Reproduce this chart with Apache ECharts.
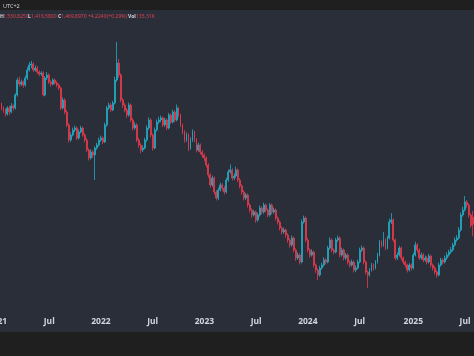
<!DOCTYPE html>
<html><head><meta charset="utf-8">
<script src="https://cdn.jsdelivr.net/npm/echarts@6/dist/echarts.min.js"></script>
<style>html,body{margin:0;padding:0;background:#1f1f1f}#c{width:474px;height:356px}</style>
</head><body><div id="c"></div>
<script>
// Weekly candles, first week starting Monday 2021-01-04
const startWeek = '2021-01-04';
const opens = [1998,2003,2012,1994,1985,1967,1994,1976,2003,1994,2052.5,2120,2102,2111,2097.5,2129,2165,2187.5,2192,2165,2174,2156,2147,2151.5,2052.5,2129,2142.5,2111,2102,2120,2106.5,2097.5,2084,1994,2030,1976,1917.5,1850,1872.5,1895,1904,1859,1886,1904,1872.5,1850,1805,1769,1796,1782.5,1814,1827.5,1850,1859,1841,1917.5,1994,2007.5,1985,2016.5,2120,2196.5,2142.5,2030,2007.5,1985,1962.5,2007.5,1940,1904,1917.5,1850,1827.5,1805,1814,1850,1904,1940,1872.5,1814,1895,1931,1940,1949,1917.5,1940,1904,1962.5,1931,1976,1940,1994,1962.5,1917.5,1886,1850,1872.5,1814,1850,1886,1850,1805,1827.5,1796,1782.5,1769,1737.5,1692.5,1647.5,1679,1616,1589,1625,1647.5,1634,1616,1670,1706,1715,1679,1688,1715,1670,1643,1616,1589,1602.5,1557.5,1535,1512.5,1526,1490,1512.5,1544,1526,1557.5,1535,1512.5,1557.5,1526,1535,1499,1481,1454,1436,1445,1422.5,1400,1377.5,1409,1355,1319,1332.5,1301,1481,1499,1400,1355,1332.5,1346,1287.5,1265,1242.5,1274,1287.5,1310,1301,1364,1400,1355,1346,1400,1409,1332.5,1355,1319,1332.5,1301,1287.5,1301,1265,1274,1301,1355,1364,1301,1256,1242.5,1265,1287.5,1274,1301,1332.5,1391,1377.5,1400,1364,1409,1481,1490,1400,1319,1332.5,1364,1319,1301,1287.5,1265,1287.5,1274,1332.5,1377.5,1355,1319,1332.5,1310,1319,1301,1328,1287.5,1274,1256,1242.5,1287.5,1310,1301,1319,1332.5,1346,1355,1377.5,1400,1409,1445,1512.5,1535,1571,1557.5,1512.5,1502];
const closes = [2003,2012,1994,1985,1967,1994,1976,2003,1994,2052.5,2120,2102,2111,2097.5,2129,2165,2187.5,2192,2165,2174,2156,2147,2151.5,2052.5,2129,2142.5,2111,2102,2120,2106.5,2097.5,2084,1994,2030,1976,1917.5,1850,1872.5,1895,1904,1859,1886,1904,1872.5,1850,1805,1769,1796,1782.5,1814,1827.5,1850,1859,1841,1917.5,1994,2007.5,1985,2016.5,2120,2196.5,2142.5,2030,2007.5,1985,1962.5,2007.5,1940,1904,1917.5,1850,1827.5,1805,1814,1850,1904,1940,1872.5,1814,1895,1931,1940,1949,1917.5,1940,1904,1962.5,1931,1976,1940,1994,1962.5,1917.5,1886,1850,1872.5,1814,1850,1886,1850,1805,1827.5,1796,1782.5,1769,1737.5,1692.5,1647.5,1679,1616,1589,1625,1647.5,1634,1616,1670,1706,1715,1679,1688,1715,1670,1643,1616,1589,1602.5,1557.5,1535,1512.5,1526,1490,1512.5,1544,1526,1557.5,1535,1512.5,1557.5,1526,1535,1499,1481,1454,1436,1445,1422.5,1400,1377.5,1409,1355,1319,1332.5,1301,1481,1499,1400,1355,1332.5,1346,1287.5,1265,1242.5,1274,1287.5,1310,1301,1364,1400,1355,1346,1400,1409,1332.5,1355,1319,1332.5,1301,1287.5,1301,1265,1274,1301,1355,1364,1301,1256,1242.5,1265,1287.5,1274,1301,1332.5,1391,1377.5,1400,1364,1409,1481,1490,1400,1319,1332.5,1364,1319,1301,1287.5,1265,1287.5,1274,1332.5,1377.5,1355,1319,1332.5,1310,1319,1301,1328,1287.5,1274,1256,1242.5,1287.5,1310,1301,1319,1332.5,1346,1355,1377.5,1400,1409,1445,1512.5,1535,1571,1557.5,1512.5,1465.7,1469.9];
const lows = [1985,1996,1984,1972,1955,1960,1962,1970,1982,1988,2045,2090,2093,2085,2090,2120,2158,2172,2156,2158,2147,2137,2138,2046,2048,2120,2102,2090,2096,2098,2088,2074,1985,1988,1966,1908,1839,1842,1866,1886,1850,1852,1880,1864,1840,1796,1758,1762,1770,1670,1806,1820,1842,1832,1836,1910,1986,1975,1980,2010,2112,2130,2020,1995,1975,1950,1955,1930,1893,1896,1840,1815,1790,1796,1808,1842,1896,1862,1802,1808,1888,1922,1930,1908,1910,1895,1898,1922,1925,1930,1934,1952,1908,1875,1838,1842,1800,1806,1842,1840,1794,1798,1785,1770,1755,1726,1680,1636,1640,1604,1578,1580,1618,1622,1605,1610,1662,1698,1668,1670,1680,1660,1632,1604,1578,1580,1546,1524,1500,1505,1478,1482,1505,1515,1518,1525,1502,1505,1515,1518,1488,1470,1442,1425,1428,1410,1388,1366,1370,1344,1306,1310,1290,1295,1474,1390,1344,1320,1325,1276,1252,1220,1235,1266,1280,1290,1295,1356,1345,1335,1340,1392,1322,1325,1308,1310,1290,1276,1280,1254,1256,1268,1295,1346,1290,1245,1184,1236,1258,1262,1268,1294,1326,1366,1370,1354,1358,1402,1472,1390,1308,1310,1325,1308,1290,1276,1254,1258,1262,1268,1326,1344,1310,1312,1300,1302,1290,1294,1276,1262,1245,1230,1236,1280,1290,1294,1310,1325,1338,1348,1370,1392,1402,1438,1505,1528,1545,1500,1455,1416.58];
const highs = [2015,2024,2018,2001,1992,2002,2004,2016,2010,2060,2131,2134,2122,2118,2140,2178,2201,2206,2199,2186,2183,2164,2160,2158,2137,2156,2150,2119,2128,2126,2115,2104,2090,2041,2038,1984,1925,1884,1906,1915,1912,1897,1914,1911,1880,1858,1812,1808,1804,1822,1838,1861,1870,1866,1928,2004,2018,2016,2026,2135,2291,2215,2150,2040,2016,1994,2018,2014,1948,1930,1925,1860,1835,1826,1860,1916,1952,1948,1880,1906,1942,1954,1960,1956,1950,1948,1972,1970,1986,1984,2010,2000,1968,1924,1894,1884,1880,1862,1898,1892,1858,1838,1834,1804,1790,1776,1745,1700,1690,1686,1624,1636,1658,1655,1642,1680,1718,1740,1722,1700,1730,1722,1678,1650,1624,1612,1610,1565,1542,1536,1532,1522,1556,1552,1568,1564,1542,1566,1564,1546,1542,1506,1488,1462,1456,1452,1430,1408,1420,1416,1362,1344,1340,1492,1510,1506,1408,1362,1358,1352,1294,1272,1284,1298,1322,1318,1374,1412,1408,1362,1410,1420,1416,1366,1362,1342,1340,1308,1312,1308,1286,1312,1366,1376,1370,1308,1262,1274,1296,1294,1310,1342,1400,1398,1436,1408,1418,1496,1521,1497,1406,1344,1374,1370,1326,1308,1294,1296,1294,1342,1392,1386,1362,1344,1340,1330,1326,1338,1334,1294,1282,1264,1298,1320,1318,1330,1344,1356,1368,1388,1412,1422,1458,1524,1550,1598,1580,1565,1520,1530.825];
const yearLabelMonth = 0, midLabelMonth = 6, midLabelText = 'Jul';

const weeks = [];
{ const t0 = Date.parse(startWeek + 'T00:00:00Z');
  for (let i = 0; i < closes.length; i++) weeks.push(new Date(t0 + i * 7 * 864e5)); }
const cats = weeks.map(d => d.toISOString().slice(0, 10));
function isLabel(i) {
  const m = weeks[i].getUTCMonth();
  if (m !== yearLabelMonth && m !== midLabelMonth) return false;
  return i === 0 || weeks[i - 1].getUTCMonth() !== m;
}
const chart = echarts.init(document.getElementById('c'), null, {renderer: 'canvas'});
const up = '#22a9c1', down = '#e5394d';
const hdr = 'Noto Sans, sans-serif';
const hdrItems = [
  ['H', 0, '#d1d4dc'], ['1,530.8250', 3, '#e0424f'],
  ['L', 28, '#d1d4dc'], ['1,416.5800', 31, '#e0424f'],
  ['C', 58, '#d1d4dc'], ['1,469.8970', 61, '#e0424f'],
  ['+4.2240', 88, '#e0424f'], ['(+0.29%)', 107, '#e0424f'],
  ['Vol', 128, '#d1d4dc'], ['135.31K', 136, '#e0424f']
];
chart.setOption({
  backgroundColor: '#2a2e39',
  animation: false,
  graphic: [
    {type: 'rect', left: 0, top: 0, shape: {width: 474, height: 10}, style: {fill: '#1f1f1f'}, z: 0},
    {type: 'rect', left: 0, top: 332, shape: {width: 474, height: 24}, style: {fill: '#1f1f1f'}, z: 0},
    {type: 'text', x: 3, y: 6, style: {text: 'UTC+2', fill: '#d1d4dc', font: '5.5px ' + hdr, verticalAlign: 'middle'}, z: 5}
  ].concat(hdrItems.map(h => ({type: 'text', x: h[1], y: 17, style: {text: h[0], fill: h[2], font: (h[0].length < 4 && /[A-Za-z]/.test(h[0]) ? 'bold ' : '') + '5px ' + hdr, verticalAlign: 'middle'}, z: 5}))),
  grid: {left: -3.5, right: 0, top: 10, bottom: 40, containLabel: false, outerBoundsMode: 'none'},
  xAxis: {
    type: 'category', data: cats, boundaryGap: true,
    axisLine: {show: false}, axisTick: {show: false}, splitLine: {show: false},
    axisLabel: {
      interval: (i) => isLabel(i), margin: 1.5, hideOverlap: false,
      formatter: (v, i) => weeks[i].getUTCMonth() === yearLabelMonth ? String(weeks[i].getUTCFullYear()) : midLabelText,
      color: '#d1d4dc', fontSize: 8.5, fontWeight: 'bold', fontFamily: 'Noto Sans'
    }
  },
  yAxis: {type: 'value', min: 1058, max: 2435, show: false, splitLine: {show: false}},
  series: [{
    type: 'candlestick', barWidth: '70%',
    data: closes.map((c, i) => [opens[i], c, lows[i], highs[i]]),
    itemStyle: {color: up, color0: down, borderColor: up, borderColor0: down, borderWidth: 0.8}
  }]
});
</script></body></html>
